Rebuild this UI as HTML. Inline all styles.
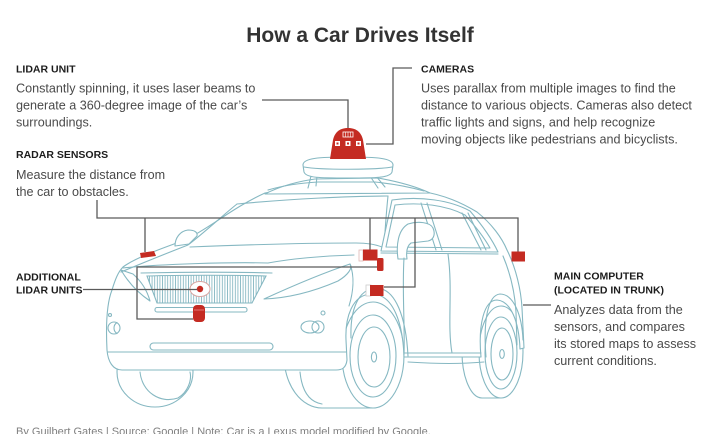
<!DOCTYPE html>
<html><head><meta charset="utf-8"><style>
html,body{margin:0;padding:0;background:#fff;}
svg{display:block;}
.t{font-family:"Liberation Sans",Arial,sans-serif;}
.lbl{font-weight:bold;font-size:10.5px;fill:#1c1c1c;}
.bd{font-size:12.6px;fill:#4a4a4a;}
.car{fill:none;stroke:#86b8c2;stroke-width:1.1;stroke-linejoin:round;stroke-linecap:round;}
.cw{fill:#fff;stroke:#86b8c2;stroke-width:1.1;stroke-linejoin:round;}
.con{fill:none;stroke:#5a5a5a;stroke-width:1.3;}
.red{fill:#c42b22;}
</style></head><body>
<svg width="710" height="434" viewBox="0 0 710 434" xmlns="http://www.w3.org/2000/svg">
<defs>
<pattern id="hatch" width="2.6" height="10" patternUnits="userSpaceOnUse">
<line x1="1.3" y1="0" x2="1.3" y2="10" stroke="#86b8c2" stroke-width="0.9"/>
</pattern>
</defs>

<!-- Title -->
<text class="t" x="360" y="42" text-anchor="middle" font-size="21" font-weight="bold" fill="#333">How a Car Drives Itself</text>

<!-- Left texts -->
<text class="t lbl" x="16" y="72.5">LIDAR UNIT</text>
<text class="t bd" x="16" y="92.5">Constantly spinning, it uses laser beams to</text>
<text class="t bd" x="16" y="109.5">generate a 360-degree image of the car’s</text>
<text class="t bd" x="16" y="126.5">surroundings.</text>
<text class="t lbl" x="16" y="158">RADAR SENSORS</text>
<text class="t bd" x="16" y="179">Measure the distance from</text>
<text class="t bd" x="16" y="196">the car to obstacles.</text>

<!-- Cameras -->
<text class="t lbl" x="421" y="72.5">CAMERAS</text>
<text class="t bd" x="421" y="92.5">Uses parallax from multiple images to find the</text>
<text class="t bd" x="421" y="109.5">distance to various objects. Cameras also detect</text>
<text class="t bd" x="421" y="126.5">traffic lights and signs, and help recognize</text>
<text class="t bd" x="421" y="143.5">moving objects like pedestrians and bicyclists.</text>

<!-- Additional lidar -->
<text class="t lbl" x="16" y="280.5">ADDITIONAL</text>
<text class="t lbl" x="16" y="293.5">LIDAR UNITS</text>

<!-- Main computer -->
<text class="t lbl" x="554" y="279.5">MAIN COMPUTER</text>
<text class="t lbl" x="554" y="293.5">(LOCATED IN TRUNK)</text>
<text class="t bd" x="554" y="314">Analyzes data from the</text>
<text class="t bd" x="554" y="331">sensors, and compares</text>
<text class="t bd" x="554" y="348">its stored maps to assess</text>
<text class="t bd" x="554" y="365">current conditions.</text>

<!-- Footer -->
<text class="t" x="16" y="435" font-size="11" fill="#808080">By Guilbert Gates  |  Source: Google | Note: Car is a Lexus model modified by Google.</text>

<!-- ===== CAR ===== -->
<!-- Left front tire (under bumper) -->
<ellipse class="cw" cx="155" cy="372" rx="38" ry="35"/>
<path class="car" d="M140,372 C142,392 160,404 178,398 C188,392 192,380 190,372"/>
<!-- Front side tire -->
<ellipse class="cw" cx="322" cy="356" rx="38" ry="52"/>
<path class="cw" d="M322,304 L373,302 L373,408 L322,408 Z" style="stroke:none"/>
<path class="car" d="M322,408 L373,408"/>
<path class="car" d="M300,372 C302,392 310,402 322,404"/>
<ellipse class="cw" cx="373" cy="355" rx="31" ry="53"/>
<ellipse class="car" cx="373" cy="356" rx="23" ry="41"/>
<ellipse class="car" cx="374" cy="357" rx="16" ry="30"/>
<ellipse class="car" cx="374" cy="357" rx="2.6" ry="5"/>
<!-- Rear tire -->
<ellipse class="cw" cx="482" cy="352" rx="20" ry="46"/>
<path class="cw" d="M482,306 L501,306 L501,398 L482,398 Z" style="stroke:none"/>
<path class="car" d="M482,398 L501,398"/>
<ellipse class="cw" cx="501" cy="352" rx="22" ry="46"/>
<ellipse class="car" cx="501" cy="353" rx="16" ry="36"/>
<ellipse class="car" cx="502" cy="354" rx="11" ry="26"/>
<ellipse class="car" cx="502" cy="354" rx="2.3" ry="4.5"/>

<!-- Body silhouette -->
<path class="cw" d="M107,350 C106,330 106,305 112,290 C115,280 118,272 123,267 C135,258 160,249 185,240 C210,228 232,208 265,193 C300,186 380,187 420,191 C445,195 462,203 477,212 C492,224 502,238 507,250 C516,268 521,290 522,308 L524,348 L520,349 C519,322 511,301 497,300 C484,300 478,325 481,357 L404,357 C403,325 394,294 372,294 C352,294 345,318 346,340 L347,360 C346,368 342,370 336,370 L122,370 C113,370 108,362 107,350 Z"/>

<!-- Arch flares -->
<path class="car" d="M351,338 C350,310 358,289 376,288 C396,288 406,318 408,356"/>
<path class="car" d="M486,357 C483,320 488,295 500,294 C514,294 522,316 523,340"/>
<!-- Rear double line -->
<path class="car" d="M503,256 C511,275 515,295 516,312 L517,345"/>

<!-- Windshield / A-pillar inner line -->
<path class="car" d="M121,272 C145,262 170,252 188,245 C205,232 222,216 237,204"/>
<!-- windshield top & right edge -->
<path class="car" d="M237,204 C290,199 350,196 388,196"/>
<path class="car" d="M388,196 C386,215 385,232 384,247"/>
<!-- cowl -->
<path class="car" d="M190,247 C240,245 300,243 356,243 C368,243 378,245 384,248"/>
<!-- hood right crease -->
<path class="car" d="M268,263 C290,259 320,256 354,255"/>
<!-- left mirror -->
<path class="cw" d="M175,246 C175,238 180,231 188,230 C194,230 198,232 197,236 L189,244 Z"/>
<!-- hood front -->
<path class="car" d="M123,268 C160,264 230,262 268,263"/>
<!-- headlights -->
<path class="car" d="M121,270 C128,282 138,293 150,301 C147,290 141,281 133,274 Z"/>
<path class="car" d="M264,299 C288,288 320,274 350,264 C353,268 348,275 338,281 C315,291 290,298 264,299 Z"/>
<path class="car" d="M350,264 C355,277 353,293 349,306"/>

<!-- grille -->
<path d="M147,276 C180,275 235,275 266,276 L252,303 L157,303 Z" fill="url(#hatch)" stroke="#86b8c2" stroke-width="1.1"/>
<path class="car" d="M141,273 C180,272 235,272 272,273"/>
<ellipse cx="200" cy="289" rx="10" ry="7.5" fill="#fff" stroke="#d9a6a2" stroke-width="1"/>
<circle cx="200" cy="289" r="3.2" class="red"/>
<rect class="car" x="155" y="307.5" width="92" height="4.5" rx="2"/>
<!-- fog lights, intake -->
<circle class="car" cx="114" cy="328" r="6"/>
<path class="car" d="M117,322.5 C113,325 113,331 117,333.5"/>
<circle class="car" cx="110" cy="315" r="1.5"/>
<ellipse class="car" cx="310" cy="327" rx="9" ry="6"/>
<circle class="car" cx="318" cy="327" r="6"/>
<circle class="car" cx="323" cy="313" r="2"/>
<rect class="car" x="150" y="343" width="123" height="7" rx="3.5"/>
<path class="car" d="M108,352 L346,352"/>

<!-- side windows -->
<path class="cw" d="M381,251 L392,200 C420,196 450,200 470,211 C482,225 492,239 498,252 Z"/>
<path class="car" d="M386,247 L395,205 C420,202 446,205 465,215 C477,228 485,239 490,248 Z"/>
<path class="car" d="M421,203 L436,250 M427,203 L442,250"/>
<path class="car" d="M462,213 L481,250 M468,213 L486,250"/>
<path class="car" d="M381,253 L498,254"/>
<!-- side mirror -->
<path class="cw" d="M398,259 C396,245 398,230 408,224 C418,221 430,222 433,228 C436,235 433,240 428,241 L411,243 C407,246 406,252 407,259 Z"/>
<!-- door lines -->
<path class="car" d="M404,258 C402,290 405,325 404,355"/>
<path class="car" d="M448,254 C453,290 447,325 452,353"/>
<path class="car" d="M404,353 L481,353"/>
<path class="car" d="M408,362 C440,364 460,364 484,362"/>

<!-- roof rack -->
<path class="cw" d="M265,194 C280,186 300,181 315,179 L378,178 C395,181 415,186 430,193 Z"/>
<path class="car" d="M268,190 C285,185 300,183 318,182 L375,182 C395,184 410,187 424,191"/>
<path class="car" d="M311,176 L308,188 M317,176 L316,186 M370,176 L378,188 M376,176 L385,187"/>
<!-- platform -->
<path class="cw" d="M303,165 C303,158 320,157 348,157 C376,157 393,158 393,165 L392,172 C390,178 375,178 348,178 C320,178 306,178 304,172 Z"/>
<path class="car" d="M304,167 C320,170 376,170 392,167"/>
<!-- lidar dome -->
<path class="red" d="M330,159 L333,140 C335,131 341,128 348,128 C355,128 361,131 363,140 L366,159 Z"/>
<rect x="343" y="132" width="10" height="5" fill="none" stroke="#fff" stroke-width="0.8"/>
<path d="M345.5,132 V137 M348,132 V137 M350.5,132 V137" stroke="#fff" stroke-width="0.6"/>
<rect x="335" y="141" width="5" height="5" fill="#fff"/>
<rect x="345.5" y="141" width="5" height="5" fill="#fff"/>
<rect x="356" y="141" width="5" height="5" fill="#fff"/>
<rect x="336.5" y="142.5" width="2" height="2" class="red"/>
<rect x="347" y="142.5" width="2" height="2" class="red"/>
<rect x="357.5" y="142.5" width="2" height="2" class="red"/>

<!-- ===== CONNECTORS ===== -->
<path class="con" d="M262,100 H348 V128"/>
<path class="con" d="M412,68 H393 V144 H366"/>
<path class="con" d="M97,200 V218 H518 V252"/>
<path class="con" d="M145,218 V252"/>
<path class="con" d="M370,218 V250"/>
<path class="con" d="M415,218 V287 H384"/>
<path class="con" d="M83,289.5 H197"/>
<path class="con" d="M377,267 H137 V319 H193"/>
<path class="con" d="M523,305 H551"/>

<!-- red sensors -->
<path class="red" d="M140,253 L154,251 L156,256 L141,258 Z"/>
<rect x="359" y="250" width="4" height="11" fill="#fff" stroke="#e0b8b5" stroke-width="0.8"/>
<rect x="363" y="249.5" width="14.5" height="11" class="red"/>
<rect x="377" y="258" width="6.5" height="13" rx="1.5" class="red"/>
<rect x="366" y="285" width="5" height="11" fill="#fff" stroke="#ccc" stroke-width="0.8"/>
<rect x="370" y="285" width="13.5" height="11" class="red"/>
<rect x="511.5" y="251.5" width="13.5" height="10" class="red"/>
<rect x="193" y="305" width="12" height="17" rx="4" class="red"/>
<path d="M194,310 H204" stroke="#e88" stroke-width="0.8"/>
</svg>
</body></html>
